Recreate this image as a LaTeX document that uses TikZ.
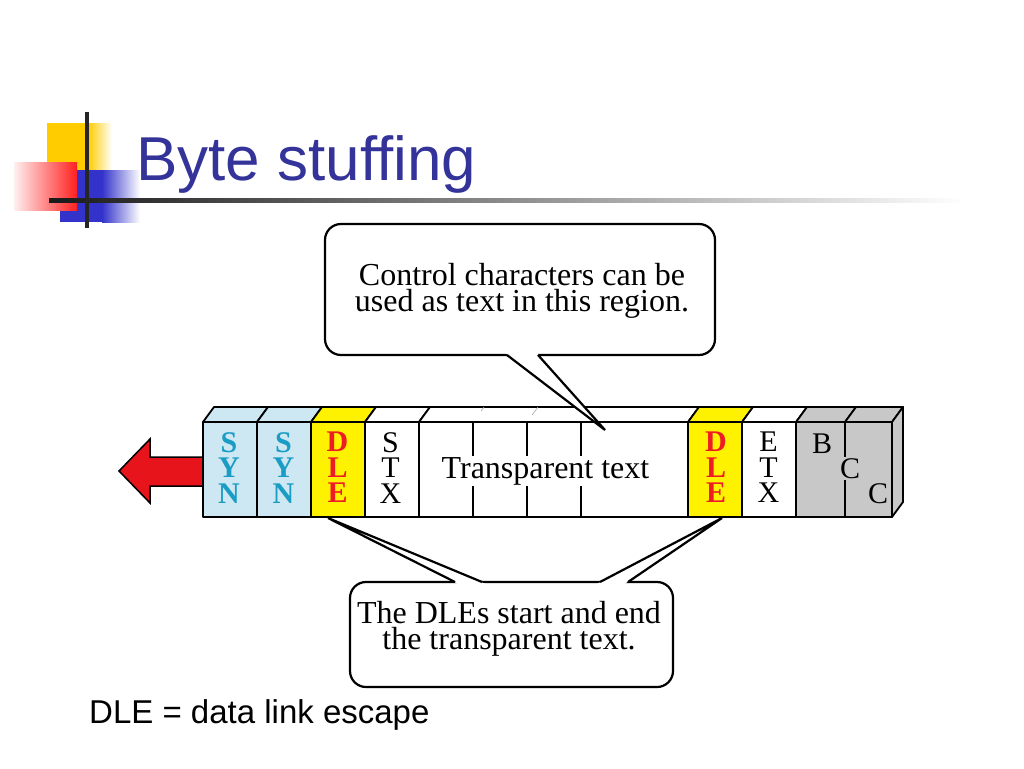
\documentclass[tikz,border=0pt]{standalone}
\usepackage{fontspec}
\setmainfont{Liberation Serif}
\newfontfamily\titlefont{Liberation Sans}
\definecolor{titleblue}{HTML}{333399}
\definecolor{synblue}{HTML}{CDE8F3}
\definecolor{syntext}{HTML}{1A9CC4}
\definecolor{dlered}{HTML}{EE1C24}
\definecolor{dleyellow}{HTML}{FFF200}
\definecolor{cellgray}{HTML}{C8C8C8}
\definecolor{arrowred}{HTML}{E8141C}
\definecolor{logoyellow}{HTML}{FFCC00}
\definecolor{logoblue}{HTML}{3333CC}
\definecolor{logored}{HTML}{FF2020}
\begin{document}
\begin{tikzpicture}[x=1pt,y=-1pt,
  cell/.style={draw=black, line width=1.8pt, line join=round},
  stack/.style={anchor=north, inner sep=0pt, align=center, font=\fontsize{30}{25.5}\selectfont},
  bstack/.style={stack, font=\fontsize{30}{25.5}\selectfont\bfseries},
  letter/.style={anchor=base, inner sep=0pt, text height=20pt, text depth=0pt, font=\fontsize{30}{30}\selectfont},
  calltext/.style={anchor=north, inner sep=0pt, align=center, font=\fontsize{32}{26}\selectfont},
  callbox/.style={draw=black, line width=2.2pt, rounded corners=16pt, fill=white},
  tailline/.style={draw=black, line width=2.2pt, line join=miter}]
\useasboundingbox (0,0) rectangle (1024,768);
\fill[white] (0,0) rectangle (1024,768);

% logo
\fill[logoyellow] (47,123) rectangle (88,172);
\shade[left color=logoyellow, right color=white] (88,123) rectangle (112,172);
\fill[logoblue] (60,170) rectangle (102,222);
\shade[left color=logoblue, right color=white] (102,170) rectangle (140,222);
\shade[left color=red!6, right color=logored] (14,162) rectangle (77,210);
\shade[left color=black!90, middle color=black!60, right color=white] (49,198) rectangle (965,202.5);
\fill[black!85] (85,112) rectangle (89,228);

% title
\node[anchor=base west, inner sep=0pt, text=titleblue, font=\titlefont\fontsize{62}{62}\selectfont] (title) at (136,180) {Byte stuffing};

% red arrow
\filldraw[fill=arrowred, line width=1.5pt, line join=miter] (205,457) -- (150,457) -- (150,439) -- (119,471) -- (150,503) -- (150,486) -- (205,486) -- cycle;

% frame cells
\foreach \l/\r/\c in {203/257/synblue, 257/311/synblue, 311/365/dleyellow, 365/419/white, 419/688/white, 688/742/dleyellow, 742/796/white, 796/845/cellgray, 845/892/cellgray} {
  \filldraw[cell, fill=\c] (\l,422) rectangle (\r,517);
  \filldraw[cell, fill=\c] (\l,422) -- (\l+11,407) -- (\r+11,407) -- (\r,422) -- cycle;
}
\filldraw[cell, fill=cellgray] (892,422) -- (903,407) -- (903,502) -- (892,517) -- cycle;
\foreach \x in {473,527,581} \draw[line width=1.1pt] (\x,422) -- (\x,517);
\draw[black!35, line width=0.6pt] (484,407) -- (481,411);
\draw[black!35, line width=0.6pt] (538,407) -- (532,415);

% cell letters
\node[bstack, text=syntext] (syn1) at (229,432) {S\\Y\\N};
\node[bstack, text=syntext] (syn2) at (283.5,432) {S\\Y\\N};
\node[bstack, text=dlered] (dle1) at (337.5,432) {D\\L\\E};
\node[bstack, text=dlered] (dle2) at (716,432) {D\\L\\E};
\node[stack] (stx) at (390.5,432) {S\\T\\X};
\node[stack] (etx) at (768.5,432) {E\\T\\X};
\node[letter] (b1) at (822,453) {B};
\node[letter, fill=cellgray, inner sep=1.5pt] (c1) at (850,478) {C};
\node[letter] (c2) at (878,503) {C};
\node[anchor=base, inner sep=1pt, fill=white, font=\fontsize{32}{32}\selectfont] (tt) at (545.5,478) {Transparent text};

% callout 1
\node[callbox, minimum width=390pt, minimum height=131pt] (box1) at (520,289.5) {};
\fill[white] (504,352) -- (605,430) -- (536,352) -- cycle;
\draw[tailline] (507,355) -- (605,430) -- (538,355);
\node[calltext] (t1) at (522,263) {Control characters can be\\used as text in this region.};

% callout 2
\node[callbox, minimum width=323pt, minimum height=105pt] (box2) at (511.5,634.5) {};
\fill[white] (328,518) -- (460,585) -- (488,585) -- cycle;
\draw[tailline] (455,582) -- (328,518) -- (482,582);
\fill[white] (722,518) -- (595,585) -- (623,585) -- cycle;
\draw[tailline] (600,582) -- (722,518) -- (628,582);
\node[calltext] (t2) at (509,601) {The DLEs start and end\\the transparent text.};

% footer
\node[anchor=base west, inner sep=0pt, font=\titlefont\fontsize{33}{33}\selectfont] (foot) at (89,723) {DLE = data link escape};
\end{tikzpicture}
\end{document}
